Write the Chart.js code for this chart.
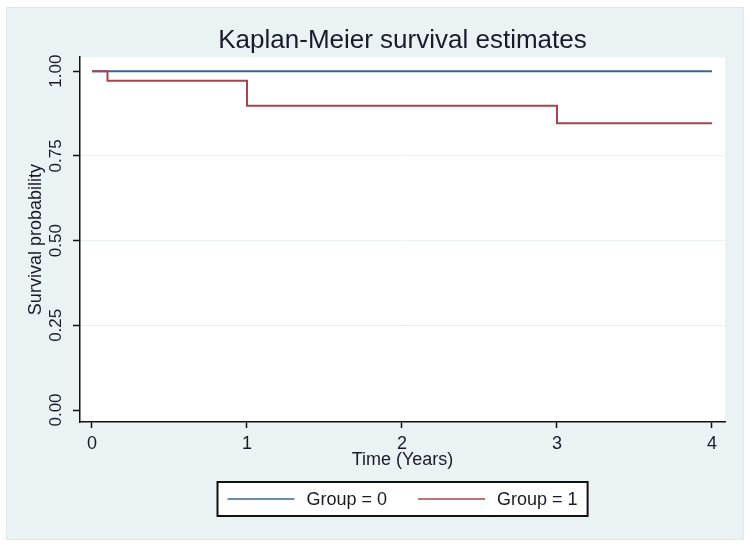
<!DOCTYPE html>
<html>
<head>
<meta charset="utf-8">
<style>
  html, body { margin: 0; padding: 0; background: #fff; }
</style>
</head>
<body>
<canvas id="kmChart" width="750" height="549"></canvas>
<script src="https://cdn.jsdelivr.net/npm/chart.js"></script>
<script>
    // Kaplan-Meier step estimates
    const group0Time = [0, 4];
    const group0Surv = [1.0, 1.0];
    const group1Time = [0, 0.1, 1, 3, 4];
    const group1Surv = [1.0, 0.972, 0.898, 0.846, 0.846];

    const seriesLabels = ['Group = 0', 'Group = 1'];
    const xTicks = [0, 1, 2, 3, 4];
    const yTicks = [0, 0.25, 0.5, 0.75, 1];

    const BLUE = '#3b6590';
    const RED = '#a8434b';
    const PANEL = '#eaf2f3';
    const INK = '#1a1a2a';

    Chart.defaults.font.family = "'Liberation Sans', Arial, sans-serif";
    Chart.defaults.color = INK;

    // stata-ish background: pale panel with white plot region
    const panelPlugin = {
        id: 'panel',
        afterLayout(chart) {
            // centre the title over the plot region, not the canvas
            if (chart.titleBlock) {
                chart.titleBlock.left = chart.chartArea.left;
                chart.titleBlock.right = chart.chartArea.right;
            }
        },
        beforeDraw(chart) {
            const {ctx, chartArea: a} = chart;
            ctx.save();
            ctx.fillStyle = '#fff';
            ctx.fillRect(0, 0, chart.width, chart.height);
            ctx.fillStyle = PANEL;
            ctx.fillRect(6, 7, 738, 533);
            ctx.strokeStyle = '#dfe8ea';
            ctx.lineWidth = 1;
            ctx.strokeRect(6.5, 7.5, 737, 532);
            ctx.fillStyle = '#fff';
            ctx.fillRect(a.left, a.top, a.right - a.left, a.bottom - a.top);
            ctx.restore();
        }
    };

    // boxed legend under the axis title
    const boxLegend = {
        id: 'boxLegend',
        afterDraw(chart) {
            const {ctx, chartArea: a} = chart;
            const sets = chart.data.datasets;
            ctx.save();
            ctx.font = "18px 'Liberation Sans', Arial, sans-serif";
            const lineLen = 67, gapText = 12, gapItem = 31, padX = 10;
            let total = 0;
            const widths = sets.map(d => ctx.measureText(d.label).width);
            widths.forEach((w, i) => { total += lineLen + gapText + w + (i ? gapItem : 0); });
            const boxW = total + padX * 2;
            const boxH = 34;
            const cx = (a.left + a.right) / 2;
            const bx = Math.round(cx - boxW / 2) + 0.5;
            const by = 482;
            ctx.fillStyle = '#fff';
            ctx.fillRect(bx, by, boxW, boxH);
            ctx.strokeStyle = '#111';
            ctx.lineWidth = 2;
            ctx.strokeRect(bx, by, boxW, boxH);
            let x = bx + padX;
            const y = by + boxH / 2;
            sets.forEach((d, i) => {
                if (i) x += gapItem;
                ctx.strokeStyle = d.borderColor;
                ctx.lineWidth = 1.5;
                ctx.beginPath();
                ctx.moveTo(x, y);
                ctx.lineTo(x + lineLen, y);
                ctx.stroke();
                x += lineLen + gapText;
                ctx.fillStyle = INK;
                ctx.textBaseline = 'middle';
                ctx.fillText(d.label, x, y + 1);
                x += widths[i];
            });
            ctx.restore();
        }
    };

    const ctx = document.getElementById('kmChart').getContext('2d');
    const kmChart = new Chart(ctx, {
        type: 'line',
        data: {
            datasets: [{
                label: seriesLabels[0],
                data: group0Time.map((t, i) => ({x: t, y: group0Surv[i]})),
                borderColor: BLUE,
                borderWidth: 2,
                pointRadius: 0,
                stepped: 'before',
                order: 1
            }, {
                label: seriesLabels[1],
                data: group1Time.map((t, i) => ({x: t, y: group1Surv[i]})),
                borderColor: RED,
                borderWidth: 2,
                pointRadius: 0,
                stepped: 'before',
                order: 0
            }]
        },
        options: {
            responsive: false,
            animation: false,
            layout: { padding: { left: 0, right: 25, top: 0, bottom: 0 } },
            plugins: {
                legend: { display: false },
                tooltip: { enabled: false },
                title: {
                    display: true,
                    text: 'Kaplan-Meier survival estimates',
                    color: INK,
                    font: { size: 26, weight: 'normal' },
                    padding: { top: 25, bottom: 1 }
                }
            },
            scales: {
                x: {
                    type: 'linear',
                    min: -0.0774,
                    max: 4.084,
                    afterBuildTicks: s => { s.ticks = xTicks.map(v => ({value: v})); },
                    afterFit: s => { s.height = 127; },
                    ticks: {
                        font: { size: 18 },
                        color: INK,
                        padding: 5,
                        maxRotation: 0,
                        callback: v => String(v)
                    },
                    grid: {
                        drawOnChartArea: false,
                        tickLength: 6,
                        tickColor: '#111',
                        tickWidth: 1.5
                    },
                    border: { display: true, color: '#111', width: 1.5 },
                    title: {
                        display: true,
                        text: 'Time (Years)',
                        color: INK,
                        font: { size: 18 },
                        padding: { top: 0, bottom: 78 }
                    }
                },
                y: {
                    type: 'linear',
                    min: -0.0354,
                    max: 1.0413,
                    afterBuildTicks: s => { s.ticks = yTicks.map(v => ({value: v})); },
                    afterFit: s => { s.width = 80; },
                    ticks: {
                        font: { size: 17 },
                        color: INK,
                        padding: 0,
                        minRotation: 90,
                        maxRotation: 90,
                        crossAlign: 'center',
                        callback: v => v.toFixed(2)
                    },
                    grid: {
                        color: c => (c.tick && (c.tick.value === 0 || c.tick.value === 1)) ? 'rgba(0,0,0,0)' : PANEL,
                        lineWidth: 1,
                        tickLength: 7,
                        tickColor: '#111',
                        tickWidth: 1.5
                    },
                    border: { display: true, color: '#111', width: 1.5 },
                    title: {
                        display: true,
                        text: 'Survival probability',
                        color: INK,
                        font: { size: 18 },
                        padding: { top: 25, bottom: 0 }
                    }
                }
            }
        },
        plugins: [panelPlugin, boxLegend]
    });
</script>
</body>
</html>
